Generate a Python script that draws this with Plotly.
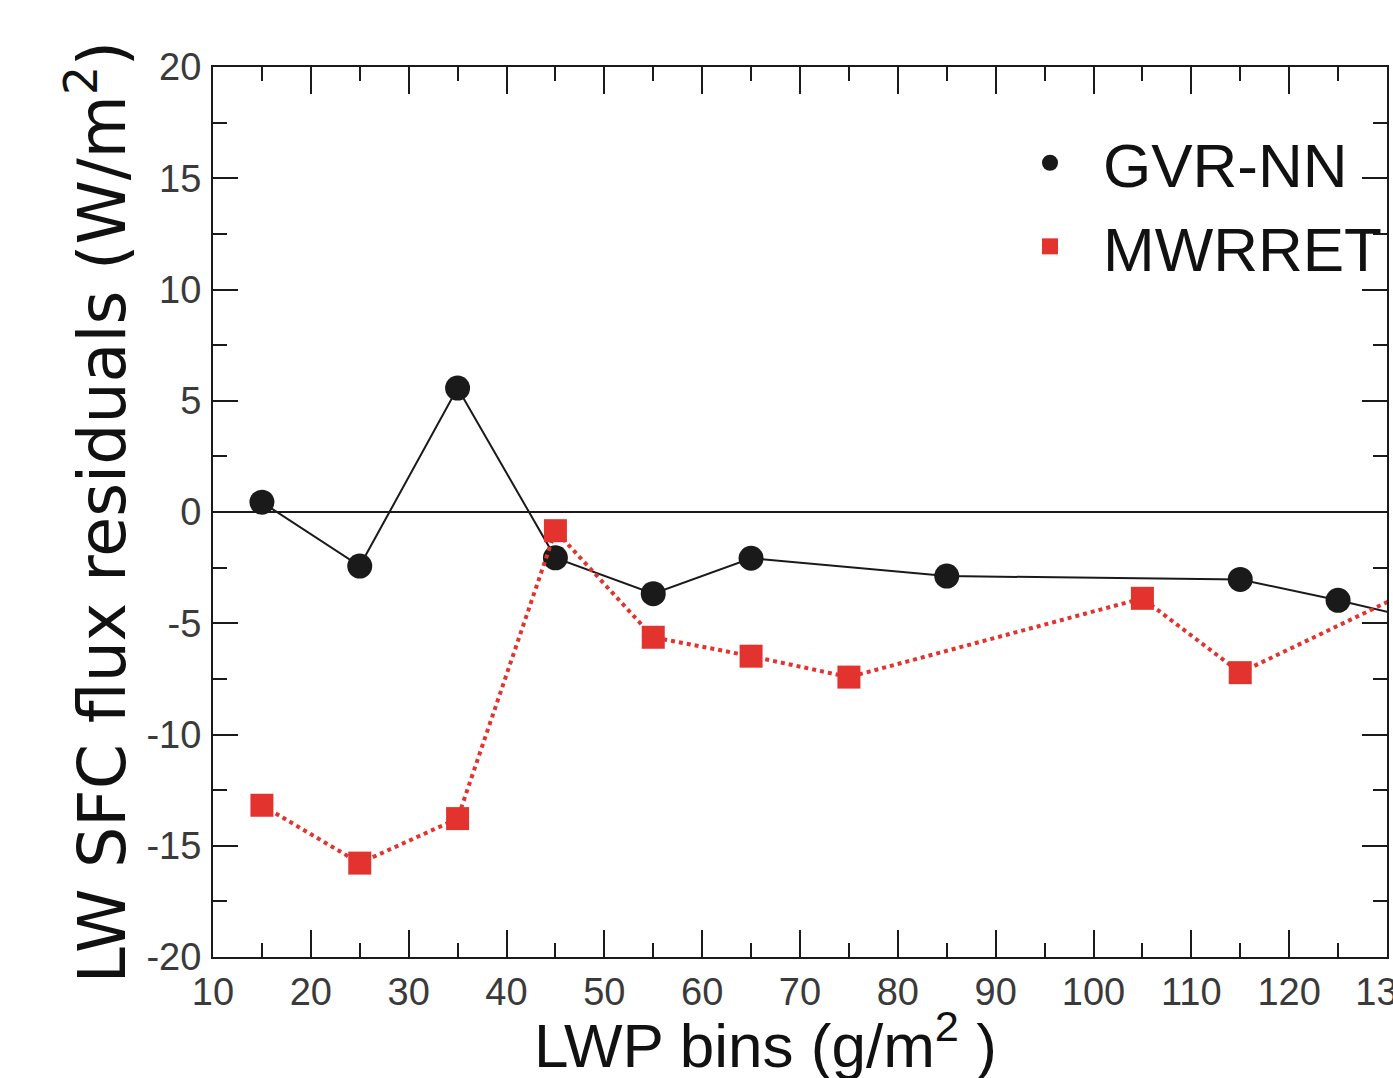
import plotly.graph_objects as go

# LWP bin centres (g/m^2)
gvr_x = [15, 25, 35, 45, 55, 65, 85, 115, 125, 135]
gvr_y = [0.44, -2.43, 5.57, -2.06, -3.67, -2.08, -2.88, -3.03, -3.97, -5.0]

mwr_x = [15, 25, 35, 45, 55, 65, 75, 105, 115, 135]
mwr_y = [-13.18, -15.78, -13.78, -0.84, -5.63, -6.48, -7.42, -3.88, -7.22, -3.0]

x_ticks = [10, 20, 30, 40, 50, 60, 70, 80, 90, 100, 110, 120, 130]
y_ticks = [20, 15, 10, 5, 0, -5, -10, -15, -20]
y_ticktext = ["20", "15", "10", "5", "0", "-5", "-10", "-15", "-20"]

RED = "#e2332f"
FONT = "Liberation Sans, Arial, sans-serif"
WIDE = "DejaVu Sans, Verdana, sans-serif"

fig = go.Figure()

fig.add_trace(go.Scatter(
    x=gvr_x, y=gvr_y, mode="lines+markers", showlegend=False,
    line=dict(color="#1a1a1a", width=2),
    marker=dict(symbol="circle", size=25, color="#1a1a1a"),
))
fig.add_trace(go.Scatter(
    x=mwr_x, y=mwr_y, mode="lines+markers", showlegend=False,
    line=dict(color=RED, width=4, dash="dot"),
    marker=dict(symbol="square", size=23, color=RED),
))
# legend entries (markers only, as in the original)
fig.add_trace(go.Scatter(
    x=[None], y=[None], mode="markers", name="GVR-NN",
    marker=dict(symbol="circle", size=25, color="#1a1a1a"),
))
fig.add_trace(go.Scatter(
    x=[None], y=[None], mode="markers", name="MWRRET",
    marker=dict(symbol="square", size=22, color=RED),
))

axis_common = dict(
    showline=True, linecolor="#1a1a1a", linewidth=2, mirror="allticks",
    ticks="inside", tickcolor="#1a1a1a", tickwidth=2,
    showgrid=False, automargin=False,
    tickfont=dict(family=FONT, size=38, color="#3a3a3a"),
)

fig.update_layout(
    width=1393, height=1078,
    margin=dict(l=213, r=6, t=67, b=121),
    paper_bgcolor="white", plot_bgcolor="white",
    font=dict(family=FONT, color="#111"),
    xaxis=dict(
        range=[10, 130], tickvals=x_ticks, ticklen=27,
        minor=dict(dtick=5, tick0=0, ticks="inside", ticklen=14, tickwidth=2, tickcolor="#1a1a1a"),
        zeroline=False, ticklabelstandoff=0, ticklabeloverflow="allow",
        **axis_common,
    ),
    yaxis=dict(
        range=[-20, 20], tickvals=y_ticks, ticktext=y_ticktext, ticklen=25,
        minor=dict(dtick=2.5, tick0=0, ticks="inside", ticklen=14, tickwidth=2, tickcolor="#1a1a1a"),
        zeroline=True, zerolinecolor="#1a1a1a", zerolinewidth=2,
        ticklabelstandoff=2,
        title=dict(text="LW SFC flux residuals (W/m<sup>2</sup>)",
                   font=dict(family=WIDE, size=65, color="#111"), standoff=0),
        **axis_common,
    ),
    legend=dict(
        x=1.0, y=0.945, xanchor="right", yanchor="top",
        bgcolor="rgba(0,0,0,0)", borderwidth=0,
        font=dict(family=FONT, size=62, color="#111"),
        itemsizing="trace", itemwidth=96,
    ),
    annotations=[dict(
        text="LWP bins (g/m<sup>2</sup> )", xref="paper", yref="paper",
        x=(765 - 213) / 1174, y=-0.048, xanchor="center", yanchor="top",
        showarrow=False, font=dict(family=FONT, size=62, color="#111"),
    )],
)

fig.write_html("out.html")
